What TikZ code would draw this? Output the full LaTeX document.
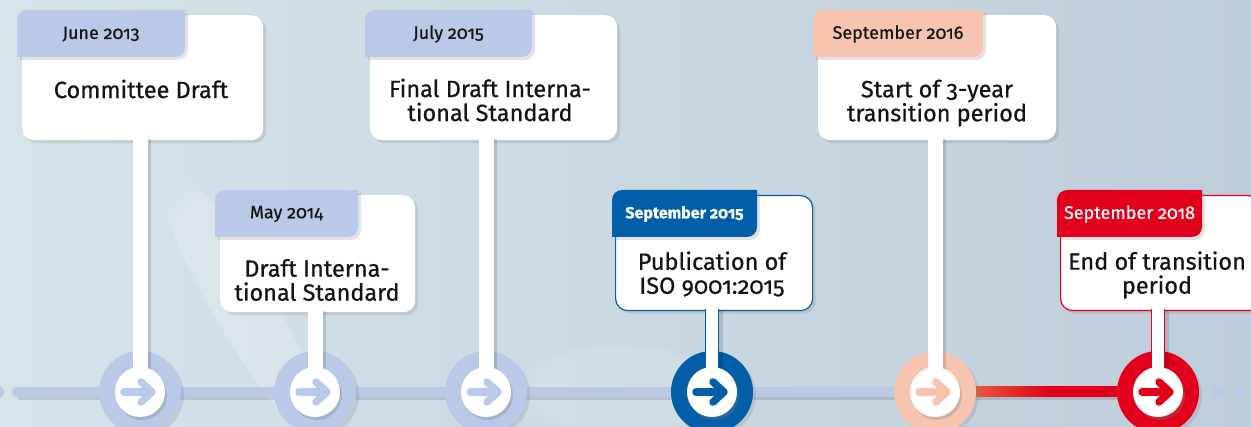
\documentclass[tikz,border=0pt]{standalone}
\usepackage{fontspec}
\setmainfont{Fira Sans}[Numbers=OldStyle, FakeBold=0.6]
\usetikzlibrary{positioning,shadows,fadings}

\definecolor{stageBlue}{RGB}{186,201,231}
\definecolor{isoBlue}{RGB}{0,95,168}
\definecolor{stagePeach}{RGB}{246,196,175}
\definecolor{stageOrange}{RGB}{234,88,60}
\definecolor{stageRed}{RGB}{226,0,26}
\definecolor{bgLeft}{RGB}{214,228,234}
\definecolor{bgMid}{RGB}{207,224,230}
\definecolor{bgRight}{RGB}{190,205,218}
\definecolor{inkColor}{RGB}{20,20,20}

\tikzstyle{timeline} = [x = 1pt, y = -1pt]
\tikzstyle{softShadow} = [drop shadow={shadow xshift=3pt, shadow yshift=-3pt, opacity=.22}]
\tikzstyle{cardStyle} = [fill=white, rounded corners = 12pt, inner sep=0pt, softShadow]
\tikzstyle{cardIso} = [cardStyle, draw=isoBlue, line width=1.2pt]
\tikzstyle{cardRed} = [cardStyle, draw=stageRed, line width=1.2pt]
\tikzstyle{titleText} = [text=inkColor, align=center, font=\fontsize{23.5}{24}\selectfont]
\tikzstyle{tabText} = [font=\fontsize{18}{20}\selectfont, inner sep=0pt]
\tikzstyle{tabPale} = [fill=stageBlue, text=inkColor]
\tikzstyle{tabPeach} = [fill=stagePeach, text=inkColor]
\tikzstyle{tabIso} = [fill=isoBlue, text=white, font=\fontsize{16}{18}\selectfont\bfseries]
\tikzstyle{tabRed} = [fill=stageRed, text=white]
\tikzstyle{stemShadow} = [preaction={draw=black, opacity=.13, line width=15pt, transform canvas={shift={(3pt,-1pt)}}}]
\tikzstyle{stemLine} = [draw=white, line width=15pt, shorten <=-2pt, stemShadow]
\tikzstyle{stemIso} = [draw=isoBlue, line width=1.2pt, double=white, double distance=12pt, shorten <=-2pt, stemShadow]
\tikzstyle{stemRed} = [stemIso, draw=stageRed]
\tikzstyle{stageMark} = [circle, minimum size=82pt, inner sep=0pt, softShadow]
\tikzstyle{pinStyle} = [circle, fill=white, minimum size=50pt, inner sep=0pt, drop shadow={shadow xshift=2pt, shadow yshift=-3pt, opacity=.3}]
\tikzstyle{arrowGlyph} = [line width=7.5pt, line cap=round, line join=round]
\tikzstyle{trackLine} = [draw=stageBlue, line width=10pt, line cap=round, preaction={draw=black, opacity=.12, line width=10pt, transform canvas={shift={(1pt,-3pt)}}}]

% card: name, left, top, width, height, look
\newcommand{\stageCard}[6]{\node[#6, minimum width=#4pt, minimum height=#5pt, anchor=north west] (#1) at (#2,#3) {};}
% tab: name, left, top, width, look, date (rounded top left and bottom right)
\newcommand{\stageTab}[6]{
  \path[#5, softShadow] (#2,#3+47) -- (#2,#3+10) arc[start angle=180, end angle=270, radius=10]
    -- (#2+#4,#3) -- (#2+#4,#3+37) arc[start angle=0, end angle=90, radius=10] -- cycle;
  \node[tabText, #5, fill=none] (#1) at (#2+#4/2,#3+24) {#6};
}
% stop on the track: name, x, colour
\newcommand{\stageStop}[3]{\node[stageMark, fill=#3] (#1) at (#2,392) {};}
% white pin with its arrow: name, stop, colour
\newcommand{\stagePin}[3]{
  \node[pinStyle] (#1) at (#2.center) {};
  \draw[arrowGlyph, #3] ([xshift=-16pt]#1.center) -- ([xshift=10pt]#1.center);
  \draw[arrowGlyph, #3] ([xshift=1pt,yshift=10pt]#1.center) -- ([xshift=12pt]#1.center) -- ([xshift=1pt,yshift=-10pt]#1.center);
}

\begin{document}
\begin{tikzpicture}[timeline]
  \useasboundingbox (0,0) rectangle (1251,427);
  \shade[left color=bgLeft, middle color=bgMid, right color=bgRight] (0,0) rectangle (1251,427);
  \fill[white, opacity=.2, path fading=circle with fuzzy edge 20 percent, rotate around={30:(240,300)}] (240,300) ellipse (30 and 170);
  \fill[white, opacity=.15, path fading=circle with fuzzy edge 20 percent] (620,390) ellipse (110 and 50);

  % track
  \coordinate (trackStart) at (17,392);
  \coordinate (trackEnd) at (1158,392);
  \draw[trackLine] (trackStart) -- (trackEnd);
  \shade[left color=stageOrange, right color=stageRed, middle color=stageRed] (975,387) rectangle (1120,397);
  \fill[stageBlue] (-2,392) circle (6) (1217,392) circle (6) (1239,392) circle (6);

  \stageStop{stage1}{140}{stageBlue}
  \stageStop{stage2}{315}{stageBlue}
  \stageStop{stage3}{486}{stageBlue}
  \stageStop{stage4}{712}{isoBlue}
  \stageStop{stage5}{935}{stagePeach}
  \stageStop{stage6}{1158}{stageRed}

  % cards
  \stageCard{card1}{22}{15}{241}{125}{cardStyle}
  \stageCard{card2}{220}{195}{195}{117}{cardStyle}
  \stageCard{card3}{370}{15}{247}{125}{cardStyle}
  \stageCard{card4}{615}{195}{197}{115}{cardIso}
  \stageCard{card5}{818}{15}{238}{125}{cardStyle}
  \stageCard{card6}{1060}{195}{200}{115}{cardRed}

  \stageTab{tab1}{17}{10}{168}{tabPale}{June 2013}
  \stageTab{tab2}{215}{190}{143}{tabPale}{May 2014}
  \stageTab{tab3}{365}{10}{167}{tabPale}{July 2015}
  \stageTab{tab4}{612}{190}{145}{tabIso}{September 2015}
  \stageTab{tab5}{813}{10}{170}{tabPeach}{September 2016}
  \stageTab{tab6}{1057}{190}{145}{tabRed}{September 2018}

  \node[titleText] (title1) at (141,89) {Committee Draft};
  \node[titleText] (title2) at (317,280) {Draft Interna-\\tional Standard};
  \node[titleText] (title3) at (490,100) {Final Draft Interna-\\tional Standard};
  \node[titleText] (title4) at (712,274) {Publication of\\ISO 9001:2015};
  \node[titleText] (title5) at (937,103) {Start of 3-year\\transition period};
  \node[titleText] (title6) at (1157,275) {End of transition\\period};

  % stems down to the track
  \draw[stemLine] (stage1 |- card1.south) -- (stage1.center);
  \draw[stemLine] (stage2 |- card2.south) -- (stage2.center);
  \draw[stemLine] (stage3 |- card3.south) -- (stage3.center);
  \draw[stemIso] (stage4 |- card4.south) -- (stage4.center);
  \draw[stemLine] (stage5 |- card5.south) -- (stage5.center);
  \draw[stemRed] (stage6 |- card6.south) -- (stage6.center);

  \stagePin{pin1}{stage1}{stageBlue}
  \stagePin{pin2}{stage2}{stageBlue}
  \stagePin{pin3}{stage3}{stageBlue}
  \stagePin{pin4}{stage4}{isoBlue}
  \stagePin{pin5}{stage5}{stagePeach}
  \stagePin{pin6}{stage6}{stageRed}
\end{tikzpicture}
\end{document}
